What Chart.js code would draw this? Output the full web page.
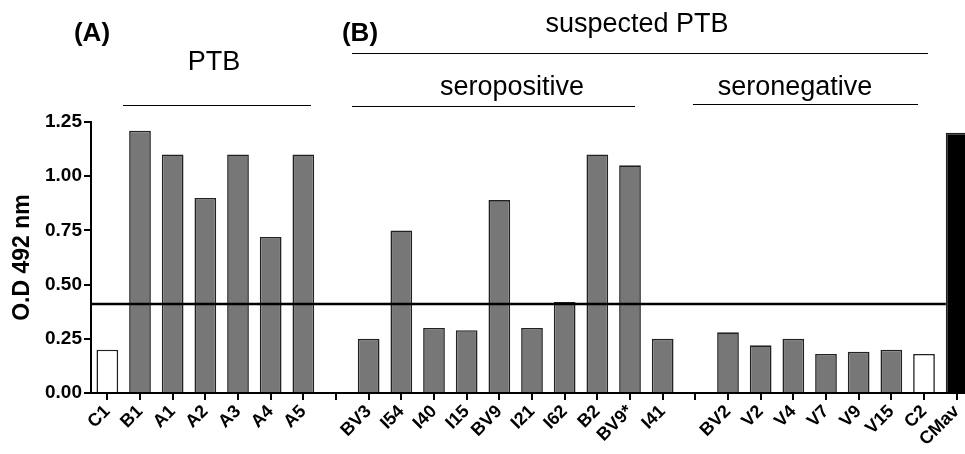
<!DOCTYPE html>
<html>
<head>
<meta charset="utf-8">
<script src="https://cdn.jsdelivr.net/npm/chart.js@4.4.1/dist/chart.umd.min.js"></script>
<style>
  html, body { margin: 0; padding: 0; background: #fff; overflow: hidden; }
  #wrap { width: 975px; height: 454px; }
</style>
</head>
<body>
<div id="wrap"><canvas id="od-chart"></canvas></div>
<script>
// echantillons (les cases vides = espaces entre groupes)
const samples = ['C1', 'B1', 'A1', 'A2', 'A3', 'A4', 'A5', '',
  'BV3', 'I54', 'I40', 'I15', 'BV9', 'I21', 'I62', 'B2', 'BV9*', 'I41', '',
  'BV2', 'V2', 'V4', 'V7', 'V9', 'V15', 'C2', 'CMav'];
const odValues = [0.20, 1.21, 1.10, 0.90, 1.10, 0.72, 1.10, null,
  0.25, 0.75, 0.30, 0.29, 0.89, 0.30, 0.42, 1.10, 1.05, 0.25, null,
  0.28, 0.22, 0.25, 0.18, 0.19, 0.20, 0.18, 1.20];
const yTicks = [0, 0.25, 0.50, 0.75, 1.00, 1.25];
const cutoff = 0.41;

const controls = ['C1', 'C2'];
const positive = ['CMav'];

const fills = samples.map(s => controls.includes(s) ? '#ffffff' : (positive.includes(s) ? '#000000' : '#777777'));

const FONT = '"Liberation Sans", Arial, sans-serif';

// ligne seuil + titres des groupes
const annotations = {
  id: 'annotations',
  afterDatasetsDraw(chart) {
    const ctx = chart.ctx;
    const area = chart.chartArea;
    const y = chart.scales.y.getPixelForValue(cutoff);
    const meta = chart.getDatasetMeta(0);
    const last = meta.data[meta.data.length - 1];
    ctx.save();
    ctx.strokeStyle = '#000';
    ctx.lineWidth = 2.5;
    ctx.beginPath();
    ctx.moveTo(area.left, y);
    ctx.lineTo(last.x - last.width / 2, y);
    ctx.stroke();
    ctx.restore();
  },
  afterDraw(chart) {
    const ctx = chart.ctx;
    ctx.save();
    ctx.fillStyle = '#000';
    ctx.textAlign = 'center';
    ctx.textBaseline = 'middle';
    ctx.font = 'bold 26px ' + FONT;
    ctx.fillText('(A)', 92, 34);
    ctx.fillText('(B)', 360, 34);
    ctx.font = '27px ' + FONT;
    ctx.fillText('PTB', 214, 63);
    ctx.fillText('suspected PTB', 637, 25);
    ctx.fillText('seropositive', 512, 88);
    ctx.fillText('seronegative', 795, 88);
    ctx.strokeStyle = '#000';
    ctx.lineWidth = 1;
    const lines = [[123, 311, 105.5], [352, 928, 53.5], [352, 635, 106.5], [693, 918, 104.5]];
    lines.forEach(l => {
      ctx.beginPath();
      ctx.moveTo(l[0], l[2]);
      ctx.lineTo(l[1], l[2]);
      ctx.stroke();
    });
    ctx.restore();
  }
};

const od_chart = document.getElementById('od-chart');
new Chart(od_chart, {
  type: 'bar',
  data: {
    labels: samples,
    datasets: [{
      label: 'O.D 492 nm',
      data: odValues,
      backgroundColor: fills,
      borderColor: '#222222',
      borderWidth: 1.6,
      categoryPercentage: 1,
      barPercentage: 0.665
    }]
  },
  options: {
    responsive: true,
    maintainAspectRatio: false,
    animation: false,
    layout: { padding: { top: 122, right: 2, left: 0, bottom: 0 } },
    plugins: {
      legend: { display: false },
      tooltip: { enabled: false }
    },
    scales: {
      x: {
        offset: true,
        afterFit(scale) { scale.height = 61; },
        grid: { offset: false, drawOnChartArea: false, drawTicks: true, tickLength: 7, color: '#000', lineWidth: 2 },
        border: { color: '#000', width: 2 },
        ticks: {
          color: '#000',
          autoSkip: false,
          maxRotation: 45,
          minRotation: 45,
          padding: 1,
          font: { family: FONT, size: 18, weight: 'bold' }
        }
      },
      y: {
        min: 0,
        max: 1.25,
        afterFit(scale) { scale.width = 91; },
        afterBuildTicks(scale) { scale.ticks = yTicks.map(v => ({ value: v })); },
        grid: { drawOnChartArea: false, drawTicks: true, tickLength: 7, color: '#000', lineWidth: 2 },
        border: { color: '#000', width: 2 },
        title: {
          display: true,
          text: 'O.D 492 nm',
          color: '#000',
          padding: { top: 9, bottom: 0 },
          font: { family: FONT, size: 23, weight: 'bold' }
        },
        ticks: {
          color: '#000',
          padding: 2,
          callback: v => v.toFixed(2),
          font: { family: FONT, size: 19, weight: 'bold' }
        }
      }
    }
  },
  plugins: [annotations]
});
</script>
</body>
</html>
